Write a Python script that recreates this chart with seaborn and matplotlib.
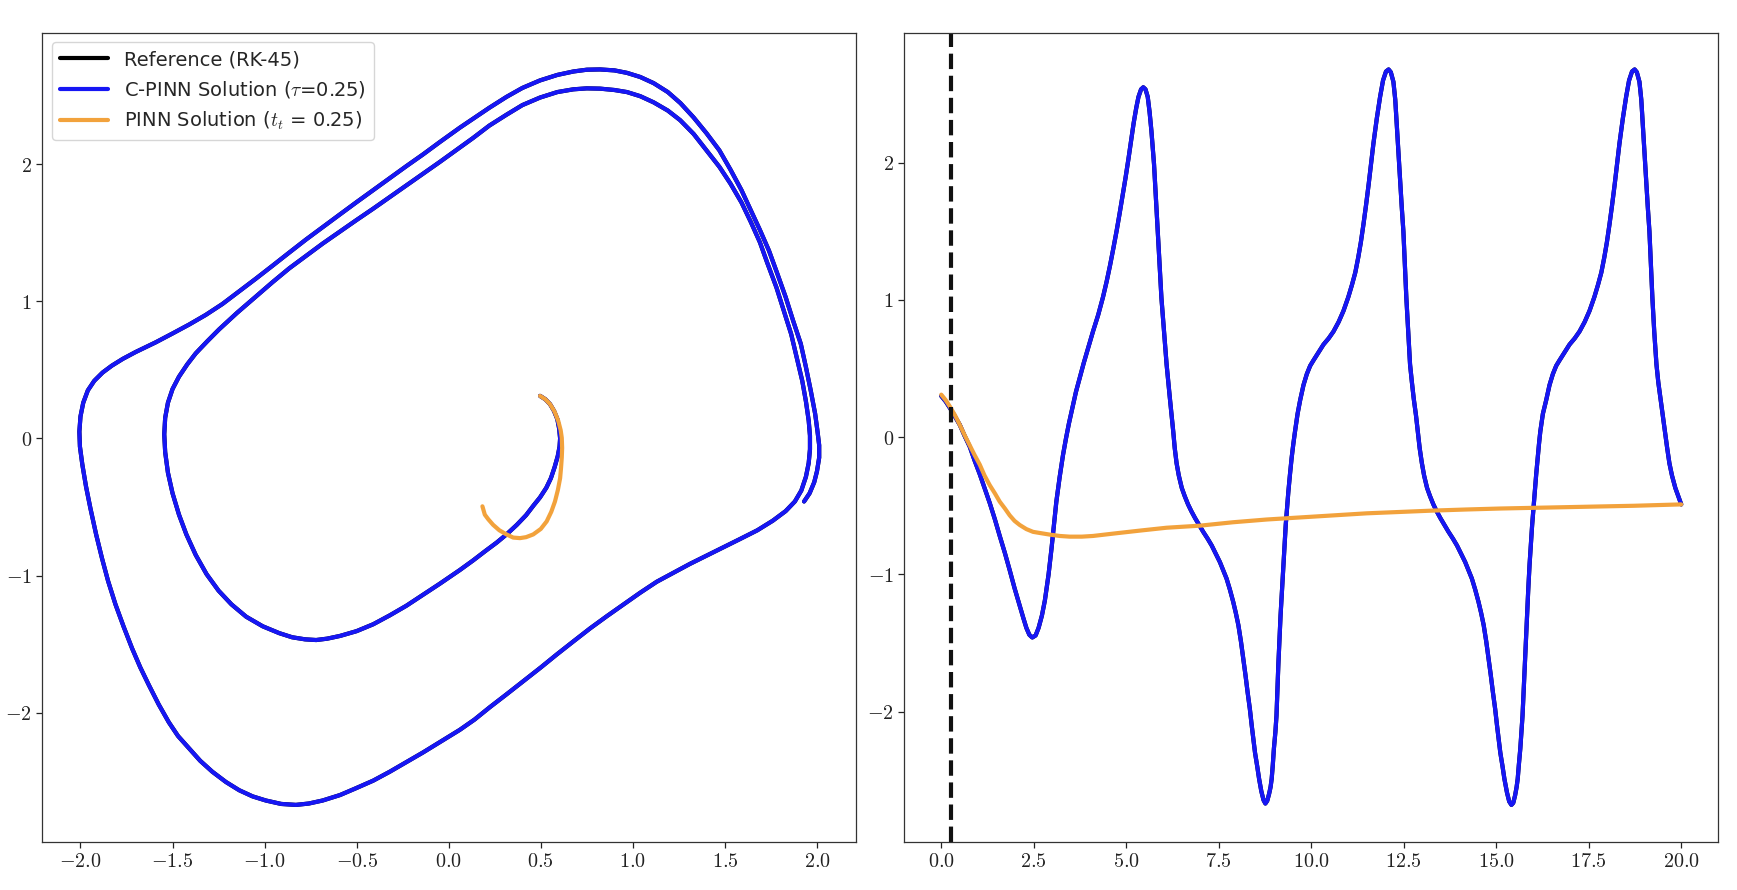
import matplotlib
matplotlib.use("Agg")
import matplotlib.pyplot as plt
from matplotlib.ticker import FuncFormatter, MultipleLocator
import seaborn as sns
import pandas as pd

# ---------------- data ----------------
# Left panel: phase portrait (x, y) of the trajectory, first inner pass
inner_pass = [
    (0.496, 0.31), (0.525, 0.285), (0.55, 0.25), (0.572, 0.20), (0.59, 0.14), (0.60, 0.07), (0.605, 0.0),
    (0.602, -0.06), (0.592, -0.13), (0.575, -0.21), (0.555, -0.29), (0.53, -0.36), (0.496, -0.43),
    (0.46, -0.49), (0.42, -0.56), (0.37, -0.63), (0.314, -0.70), (0.26, -0.76), (0.20, -0.82),
    (0.132, -0.89), (0.06, -0.96), (-0.049, -1.06), (-0.14, -1.14), (-0.23, -1.22), (-0.32, -1.29),
    (-0.41, -1.355), (-0.50, -1.405), (-0.59, -1.44), (-0.66, -1.46), (-0.72, -1.47), (-0.78, -1.465),
    (-0.85, -1.45), (-0.92, -1.42), (-1.01, -1.37), (-1.10, -1.30), (-1.18, -1.21), (-1.25, -1.11),
    (-1.315, -0.99), (-1.374, -0.85), (-1.425, -0.70), (-1.465, -0.556), (-1.50, -0.40), (-1.525, -0.25),
    (-1.54, -0.10), (-1.545, 0.03), (-1.54, 0.15), (-1.525, 0.26), (-1.50, 0.36), (-1.465, 0.45),
    (-1.42, 0.54), (-1.374, 0.62), (-1.31, 0.71), (-1.247, 0.795), (-1.15, 0.915), (-1.047, 1.035),
    (-0.956, 1.14), (-0.866, 1.24), (-0.775, 1.33), (-0.685, 1.42), (-0.594, 1.505), (-0.503, 1.59),
    (-0.41, 1.675), (-0.32, 1.76), (-0.23, 1.845), (-0.14, 1.93), (-0.049, 2.015), (0.06, 2.12),
    (0.132, 2.19), (0.22, 2.28), (0.314, 2.36), (0.40, 2.43), (0.496, 2.485), (0.59, 2.525),
    (0.677, 2.545), (0.75, 2.552), (0.822, 2.55), (0.90, 2.54), (0.968, 2.525), (1.04, 2.495),
    (1.113, 2.45), (1.19, 2.39), (1.257, 2.32), (1.33, 2.22), (1.40, 2.10), (1.47, 1.98), (1.53, 1.858),
    (1.59, 1.72), (1.64, 1.58), (1.69, 1.43), (1.73, 1.28), (1.78, 1.10), (1.82, 0.93), (1.86, 0.76),
    (1.89, 0.59), (1.92, 0.42), (1.94, 0.27), (1.955, 0.13), (1.962, 0.02), (1.962, -0.08),
    (1.955, -0.18), (1.94, -0.28), (1.915, -0.38), (1.88, -0.46), (1.83, -0.53), (1.76, -0.60),
    (1.676, -0.67), (1.58, -0.735), (1.49, -0.795),
]
# Left panel: the outer (limit-cycle) loop that follows, up to t = 20
outer_loop = [
    (1.40, -0.855), (1.31, -0.915), (1.22, -0.98), (1.13, -1.045), (1.04, -1.125), (0.95, -1.21),
    (0.86, -1.295), (0.768, -1.385), (0.677, -1.48), (0.587, -1.575), (0.50, -1.67), (0.405, -1.77),
    (0.31, -1.87), (0.223, -1.96), (0.14, -2.05), (0.06, -2.125), (-0.049, -2.215), (-0.14, -2.29),
    (-0.23, -2.36), (-0.32, -2.43), (-0.41, -2.495), (-0.503, -2.55), (-0.59, -2.60), (-0.685, -2.64),
    (-0.76, -2.662), (-0.83, -2.672), (-0.91, -2.665), (-0.993, -2.64), (-1.065, -2.61), (-1.138, -2.565),
    (-1.21, -2.505), (-1.284, -2.43), (-1.35, -2.35), (-1.41, -2.26), (-1.47, -2.17), (-1.52, -2.07),
    (-1.575, -1.94), (-1.628, -1.80), (-1.675, -1.67), (-1.72, -1.53), (-1.765, -1.375), (-1.81, -1.21),
    (-1.85, -1.04), (-1.883, -0.875), (-1.915, -0.70), (-1.946, -0.51), (-1.97, -0.35), (-1.99, -0.19),
    (-2.003, -0.06), (-2.006, 0.05), (-2.0, 0.16), (-1.985, 0.26), (-1.96, 0.35), (-1.925, 0.42),
    (-1.88, 0.48), (-1.83, 0.53), (-1.77, 0.58), (-1.70, 0.63), (-1.592, 0.70), (-1.50, 0.765),
    (-1.41, 0.83), (-1.32, 0.90), (-1.229, 0.98), (-1.14, 1.07), (-1.047, 1.165), (-0.956, 1.26),
    (-0.866, 1.355), (-0.775, 1.45), (-0.685, 1.54), (-0.594, 1.63), (-0.503, 1.72), (-0.41, 1.81),
    (-0.32, 1.897), (-0.23, 1.985), (-0.14, 2.07), (-0.049, 2.16), (0.06, 2.265), (0.132, 2.33),
    (0.22, 2.41), (0.314, 2.49), (0.40, 2.555), (0.496, 2.61), (0.59, 2.65), (0.677, 2.675),
    (0.75, 2.688), (0.822, 2.69), (0.90, 2.683), (0.968, 2.665), (1.04, 2.635), (1.113, 2.59),
    (1.19, 2.525), (1.258, 2.445), (1.33, 2.34), (1.40, 2.225), (1.47, 2.10), (1.53, 1.96),
    (1.59, 1.81), (1.64, 1.665), (1.69, 1.52), (1.739, 1.37), (1.785, 1.20), (1.83, 1.03),
    (1.87, 0.86), (1.912, 0.69), (1.94, 0.52), (1.966, 0.35), (1.99, 0.18), (2.003, 0.05),
    (2.012, -0.05), (2.012, -0.14), (2.0, -0.24), (1.985, -0.32), (1.96, -0.40), (1.93, -0.46),
]
# Left panel: PINN trajectory
pinn_phase = [
    (0.496, 0.31), (0.525, 0.285), (0.55, 0.25), (0.575, 0.195), (0.595, 0.127), (0.608, 0.06),
    (0.614, 0.004), (0.616, -0.07), (0.614, -0.14), (0.61, -0.215), (0.605, -0.29), (0.593, -0.375),
    (0.577, -0.46), (0.557, -0.535), (0.532, -0.605), (0.50, -0.66), (0.459, -0.70), (0.42, -0.72),
    (0.387, -0.727), (0.35, -0.723), (0.314, -0.70), (0.275, -0.67), (0.241, -0.63), (0.215, -0.59),
    (0.196, -0.556), (0.183, -0.495),
]

# Right panel: y(t) of the C-PINN / reference solution
cpinn_t_y = [
    (0.00, 0.30), (0.12, 0.26), (0.24, 0.21), (0.37, 0.15), (0.50, 0.09), (0.63, 0.01), (0.77, -0.07),
    (0.90, -0.17), (1.04, -0.27), (1.17, -0.37), (1.31, -0.48), (1.45, -0.60), (1.58, -0.72),
    (1.72, -0.845), (1.85, -0.97), (1.98, -1.10), (2.12, -1.23), (2.22, -1.32), (2.30, -1.39),
    (2.38, -1.44), (2.46, -1.46), (2.55, -1.445), (2.63, -1.39), (2.72, -1.30), (2.80, -1.19),
    (2.90, -1.00), (2.98, -0.81), (3.05, -0.63), (3.11, -0.47), (3.20, -0.29), (3.29, -0.13),
    (3.37, -0.01), (3.45, 0.10), (3.55, 0.22), (3.64, 0.33), (3.75, 0.44), (3.85, 0.54), (3.97, 0.65),
    (4.10, 0.77), (4.24, 0.89), (4.37, 1.02), (4.47, 1.135), (4.56, 1.25), (4.65, 1.375), (4.74, 1.505),
    (4.82, 1.63), (4.90, 1.76), (4.98, 1.89), (5.06, 2.03), (5.13, 2.16), (5.20, 2.29), (5.27, 2.40),
    (5.33, 2.48), (5.40, 2.535), (5.46, 2.55), (5.52, 2.535), (5.58, 2.48), (5.63, 2.37), (5.68, 2.23),
    (5.75, 1.99), (5.80, 1.75), (5.85, 1.50), (5.90, 1.26), (5.95, 1.015), (6.02, 0.77), (6.09, 0.53),
    (6.18, 0.28), (6.27, 0.04), (6.31, -0.08), (6.36, -0.19), (6.42, -0.28), (6.50, -0.37),
    (6.58, -0.43), (6.67, -0.49), (6.76, -0.54), (6.86, -0.59), (6.97, -0.64), (7.08, -0.69),
    (7.20, -0.74), (7.31, -0.79), (7.42, -0.85), (7.53, -0.91), (7.62, -0.97), (7.71, -1.03),
    (7.80, -1.11), (7.89, -1.20), (7.96, -1.28), (8.03, -1.37), (8.10, -1.49), (8.16, -1.61),
    (8.22, -1.73), (8.28, -1.86), (8.34, -1.98), (8.39, -2.10), (8.44, -2.21), (8.48, -2.30),
    (8.54, -2.40), (8.59, -2.49), (8.65, -2.58), (8.71, -2.645), (8.76, -2.67), (8.81, -2.65),
    (8.86, -2.60), (8.90, -2.55), (8.93, -2.49), (8.96, -2.39), (8.99, -2.27), (9.03, -2.15),
    (9.06, -2.03), (9.085, -1.85), (9.11, -1.66), (9.14, -1.48), (9.17, -1.30), (9.21, -1.11),
    (9.25, -0.93), (9.28, -0.78), (9.31, -0.64), (9.345, -0.52), (9.38, -0.40), (9.425, -0.27),
    (9.47, -0.15), (9.515, -0.05), (9.56, 0.04), (9.63, 0.17), (9.70, 0.27), (9.79, 0.38),
    (9.88, 0.46), (9.97, 0.52), (10.06, 0.56), (10.20, 0.62), (10.33, 0.675), (10.47, 0.72),
    (10.60, 0.77), (10.74, 0.84), (10.87, 0.92), (11.00, 1.02), (11.10, 1.11), (11.19, 1.20),
    (11.27, 1.31), (11.34, 1.42), (11.41, 1.55), (11.48, 1.69), (11.55, 1.84), (11.62, 2.00),
    (11.68, 2.14), (11.77, 2.32), (11.86, 2.48), (11.94, 2.60), (12.02, 2.665), (12.09, 2.68),
    (12.15, 2.66), (12.22, 2.59), (12.27, 2.46), (12.31, 2.28), (12.355, 2.08), (12.40, 1.87),
    (12.445, 1.68), (12.49, 1.50), (12.53, 1.26), (12.57, 1.015), (12.62, 0.77), (12.67, 0.53),
    (12.72, 0.40), (12.77, 0.28), (12.83, 0.16), (12.88, 0.04), (12.93, -0.08), (12.99, -0.19),
    (13.05, -0.28), (13.13, -0.37), (13.21, -0.43), (13.30, -0.49), (13.39, -0.54), (13.49, -0.59),
    (13.60, -0.64), (13.71, -0.69), (13.83, -0.74), (13.94, -0.79), (14.05, -0.85), (14.16, -0.91),
    (14.25, -0.97), (14.34, -1.03), (14.43, -1.11), (14.52, -1.20), (14.59, -1.28), (14.66, -1.37),
    (14.73, -1.49), (14.79, -1.61), (14.85, -1.73), (14.91, -1.86), (14.97, -1.98), (15.02, -2.10),
    (15.07, -2.21), (15.11, -2.30), (15.17, -2.40), (15.22, -2.49), (15.29, -2.59), (15.35, -2.655),
    (15.41, -2.68), (15.46, -2.665), (15.51, -2.61), (15.55, -2.55), (15.58, -2.49), (15.61, -2.39),
    (15.65, -2.27), (15.68, -2.15), (15.71, -2.03), (15.74, -1.85), (15.77, -1.66), (15.80, -1.48),
    (15.83, -1.30), (15.865, -1.11), (15.90, -0.93), (15.935, -0.78), (15.97, -0.64), (16.005, -0.52),
    (16.04, -0.40), (16.08, -0.27), (16.12, -0.15), (16.155, -0.05), (16.19, 0.04), (16.26, 0.17),
    (16.35, 0.27), (16.44, 0.38), (16.53, 0.46), (16.62, 0.52), (16.71, 0.56), (16.85, 0.62),
    (16.98, 0.675), (17.12, 0.72), (17.25, 0.77), (17.39, 0.84), (17.52, 0.92), (17.65, 1.02),
    (17.75, 1.11), (17.84, 1.20), (17.92, 1.31), (17.99, 1.42), (18.06, 1.55), (18.13, 1.69),
    (18.20, 1.84), (18.27, 2.00), (18.33, 2.14), (18.42, 2.32), (18.51, 2.48), (18.59, 2.60),
    (18.67, 2.665), (18.74, 2.68), (18.80, 2.66), (18.87, 2.59), (18.92, 2.46), (18.96, 2.28),
    (19.005, 2.08), (19.05, 1.87), (19.095, 1.68), (19.14, 1.50), (19.18, 1.26), (19.22, 1.015),
    (19.27, 0.77), (19.33, 0.53), (19.38, 0.40), (19.44, 0.28), (19.50, 0.16), (19.56, 0.04),
    (19.62, -0.08), (19.68, -0.19), (19.75, -0.28), (19.84, -0.37), (19.92, -0.43), (20.00, -0.49),
]
# Right panel: y(t) of the PINN solution
pinn_t_y = [
    (0.00, 0.31), (0.12, 0.27), (0.24, 0.22), (0.37, 0.16), (0.50, 0.09), (0.63, 0.015), (0.77, -0.06),
    (0.90, -0.13), (1.04, -0.20), (1.17, -0.28), (1.31, -0.35), (1.45, -0.41), (1.58, -0.47),
    (1.72, -0.52), (1.85, -0.57), (1.98, -0.61), (2.12, -0.64), (2.30, -0.67), (2.48, -0.69),
    (2.70, -0.70), (2.93, -0.71), (3.20, -0.72), (3.47, -0.725), (3.80, -0.725), (4.10, -0.72),
    (4.74, -0.70), (5.40, -0.68), (6.09, -0.66), (6.99, -0.645), (7.89, -0.62), (8.80, -0.60),
    (9.70, -0.585), (10.60, -0.57), (11.50, -0.555), (12.40, -0.545), (13.30, -0.535), (14.20, -0.527),
    (15.11, -0.52), (16.00, -0.515), (16.91, -0.51), (17.80, -0.505), (18.72, -0.50), (20.00, -0.49),
]

t_switch = 0.25
labels = ["Reference (RK-45)", r"C-PINN Solution ($\tau$=0.25)", r"PINN Solution ($t_t$ = 0.25)"]

# ---------------- styling ----------------
sns.set_style("ticks")
plt.rcParams["font.family"] = ["DejaVu Sans"]
plt.rcParams["mathtext.fontset"] = "cm"
plt.rcParams["axes.edgecolor"] = "#333333"

C_REF = "black"
C_CP = "#1616f4"
C_PINN = "#f2a23c"
LW = 3

df_phase = pd.DataFrame(inner_pass + outer_loop, columns=["x", "y"])
df_pinn_phase = pd.DataFrame(pinn_phase, columns=["x", "y"])
df_ts = pd.DataFrame(cpinn_t_y, columns=["t", "y"])
df_pinn_ts = pd.DataFrame(pinn_t_y, columns=["t", "y"])

fig = plt.figure(figsize=(17.37, 8.90), dpi=100)
ax1 = fig.add_axes([0.0244, 0.0543, 0.4685, 0.909])
ax2 = fig.add_axes([0.5206, 0.0543, 0.4686, 0.909])

# left: phase portrait
sns.lineplot(data=df_phase, x="x", y="y", sort=False, estimator=None, color=C_REF, lw=LW, ax=ax1, label=labels[0])
sns.lineplot(data=df_phase, x="x", y="y", sort=False, estimator=None, color=C_CP, lw=LW, ax=ax1, label=labels[1])
sns.lineplot(data=df_pinn_phase, x="x", y="y", sort=False, estimator=None, color=C_PINN, lw=LW, ax=ax1, label=labels[2])

# right: time series
sns.lineplot(data=df_ts, x="t", y="y", sort=False, estimator=None, color=C_REF, lw=LW, ax=ax2)
sns.lineplot(data=df_ts, x="t", y="y", sort=False, estimator=None, color=C_CP, lw=LW, ax=ax2)
sns.lineplot(data=df_pinn_ts, x="t", y="y", sort=False, estimator=None, color=C_PINN, lw=LW, ax=ax2)
ax2.axvline(t_switch, color="#111111", ls="--", lw=LW)

ax1.legend(loc="upper left", fontsize=14, handlelength=2.5)

fmt1 = FuncFormatter(lambda v, p: r"$%.1f$" % v)
fmtint = FuncFormatter(lambda v, p: r"$%d$" % round(v))
for ax in (ax1, ax2):
    ax.set_xlabel("")
    ax.set_ylabel("")
    ax.xaxis.set_major_formatter(fmt1)
    ax.yaxis.set_major_locator(MultipleLocator(1))
    ax.yaxis.set_major_formatter(fmtint)
    ax.tick_params(labelsize=14.5, length=4, width=0.9, colors="#222222")
    for s in ax.spines.values():
        s.set_linewidth(0.9)
        s.set_visible(True)
    for ln in ax.get_lines():
        ln.set_solid_joinstyle("round")
        ln.set_solid_capstyle("round")
ax1.xaxis.set_major_locator(MultipleLocator(0.5))
ax2.xaxis.set_major_locator(MultipleLocator(2.5))
if ax2.get_legend() is not None:
    ax2.get_legend().remove()

fig.savefig("out.png", dpi=100)
